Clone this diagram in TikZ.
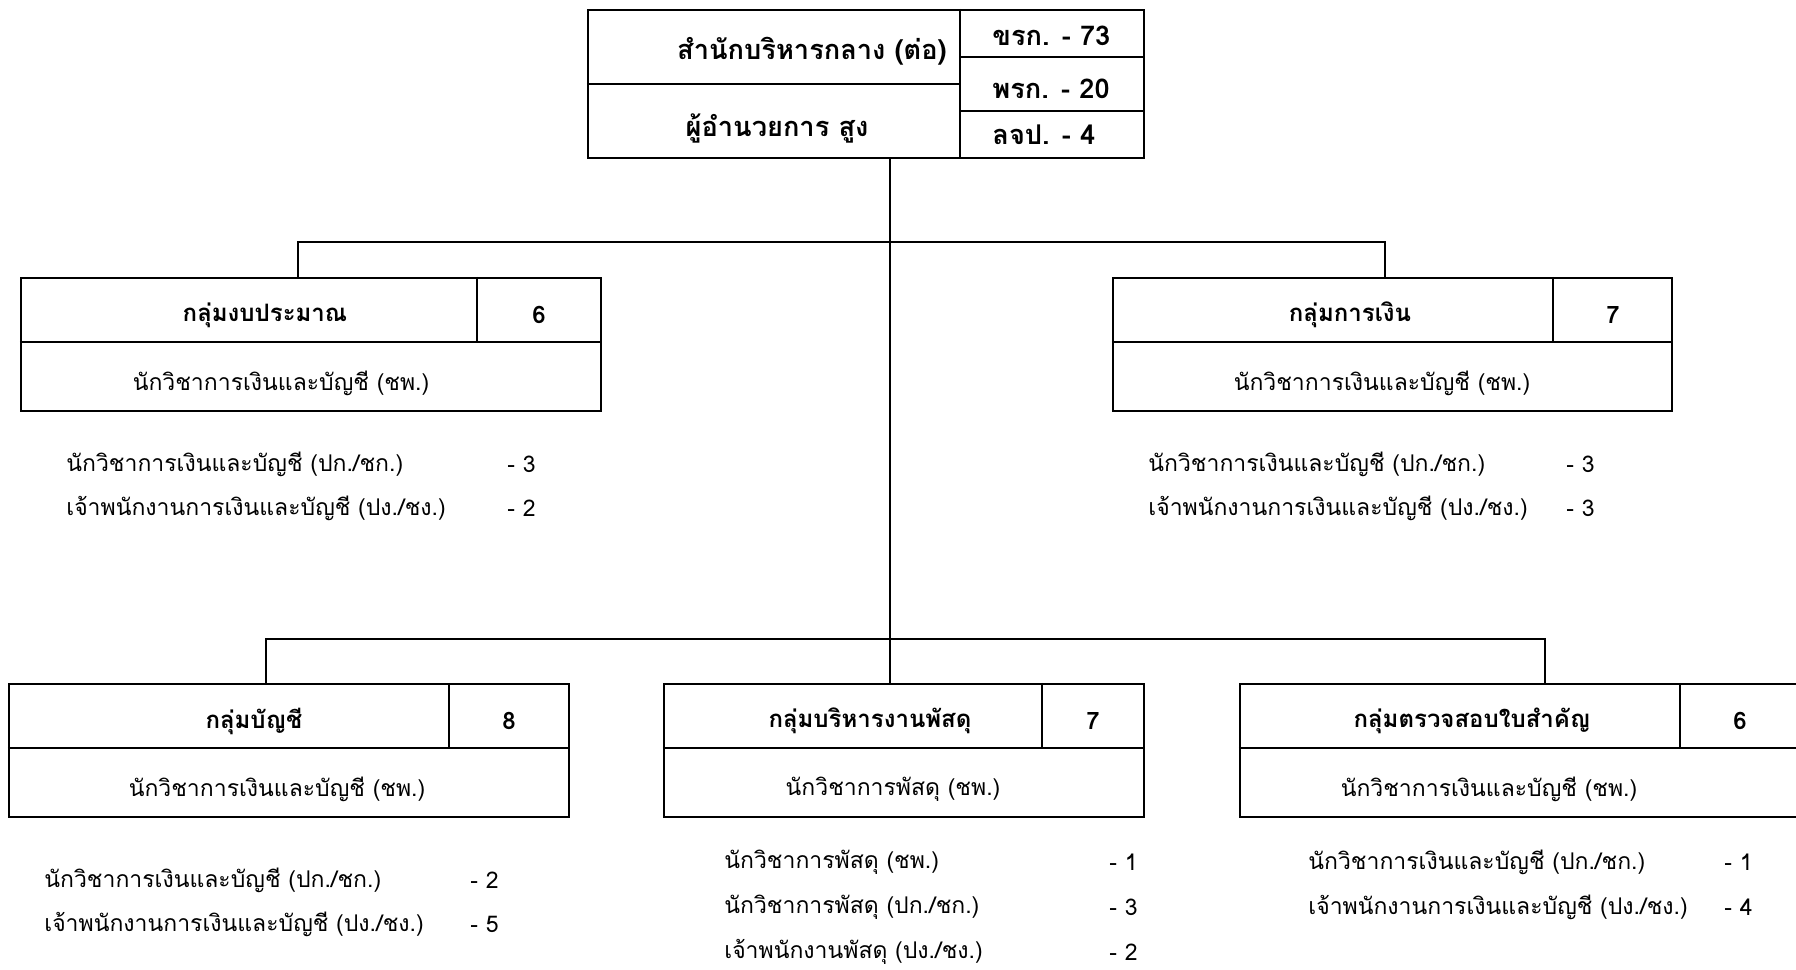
\documentclass[tikz,border=0pt]{standalone}
\usepackage{fontspec}
\setmainfont[Script=Thai]{Loma}
\usetikzlibrary{calc,fit}
\begin{document}
\begin{tikzpicture}[x=0.5pt,y=-0.5pt,
  box/.style={draw, line width=1.1pt, inner sep=0pt},
  cell/.style={line width=1.1pt},
  conn/.style={line width=0.8pt},
  hdr/.style={font=\bfseries\fontsize{12}{14}\selectfont, inner sep=0pt},
  tophdr/.style={font=\bfseries\fontsize{13.6}{15}\selectfont, inner sep=0pt},
  sub/.style={font=\fontsize{11.5}{14}\selectfont, inner sep=0pt},
  lst/.style={font=\fontsize{11.5}{14}\selectfont, inner sep=0pt, anchor=west},
]
\useasboundingbox (0,0) rectangle (1796,970);
\clip (0,0) rectangle (1796,970);
\fill[white] (0,0) rectangle (1796,970);

% top box
\node[box, fit={(588,10) (1144,158)}] (top) {};
\draw[cell] (top.north -| 960,0) -- (top.south -| 960,0);
\draw[cell] (top.west |- 0,84) -- (960,84);
\draw[cell] (960,57) -- (top.east |- 0,57);
\draw[cell] (960,111) -- (top.east |- 0,111);
\node[tophdr] (t1) at (812,51) {สำนักบริหารกลาง (ต่อ)};
\node[tophdr] (t2) at (777,128) {ผู้อำนวยการ สูง};
\node[tophdr, anchor=west] (t3) at (992,36) {ขรก. - 73};
\node[tophdr, anchor=west] (t4) at (992,89) {พรก. - 20};
\node[tophdr, anchor=west] (t5) at (992,135) {ลจป. - 4};

% group boxes
\node[box, fit={(21,278) (601,411)}] (b1) {};
\draw[cell] (b1.west |- 0,342) -- (b1.east |- 0,342);
\draw[cell] (b1.north -| 477,0) -- (477,342);
\node[hdr] (b1h) at (265,315) {กลุ่มงบประมาณ};
\node[hdr] (b1n) at (539,315) {6};
\node[sub] (b1s) at (281,383) {นักวิชาการเงินและบัญชี (ชพ.)};

\node[box, fit={(1113,278) (1672,411)}] (b2) {};
\draw[cell] (b2.west |- 0,342) -- (b2.east |- 0,342);
\draw[cell] (b2.north -| 1553,0) -- (1553,342);
\node[hdr] (b2h) at (1350,315) {กลุ่มการเงิน};
\node[hdr] (b2n) at (1613,315) {7};
\node[sub] (b2s) at (1382,383) {นักวิชาการเงินและบัญชี (ชพ.)};

\node[box, fit={(9,684) (569,817)}] (b3) {};
\draw[cell] (b3.west |- 0,748) -- (b3.east |- 0,748);
\draw[cell] (b3.north -| 449,0) -- (449,748);
\node[hdr] (b3h) at (254,721) {กลุ่มบัญชี};
\node[hdr] (b3n) at (509,721) {8};
\node[sub] (b3s) at (277,789) {นักวิชาการเงินและบัญชี (ชพ.)};

\node[box, fit={(664,684) (1144,817)}] (b4) {};
\draw[cell] (b4.west |- 0,748) -- (b4.east |- 0,748);
\draw[cell] (b4.north -| 1042,0) -- (1042,748);
\node[hdr] (b4h) at (870,721) {กลุ่มบริหารงานพัสดุ};
\node[hdr] (b4n) at (1093,721) {7};
\node[sub] (b4s) at (893,789) {นักวิชาการพัสดุ (ชพ.)};

\node[box, fit={(1240,684) (1810,817)}] (b5) {};
\draw[cell] (b5.west |- 0,748) -- (1810,748);
\draw[cell] (b5.north -| 1680,0) -- (1680,748);
\node[hdr] (b5h) at (1472,721) {กลุ่มตรวจสอบใบสำคัญ};
\node[hdr] (b5n) at (1740,721) {6};
\node[sub] (b5s) at (1489,789) {นักวิชาการเงินและบัญชี (ชพ.)};

% connectors
\coordinate (trT) at (top.south -| 890,0);
\coordinate (j1) at (890,242);
\coordinate (j1l) at (b1.north -| 298,0);
\coordinate (j1r) at (b2.north -| 1385,0);
\coordinate (j2) at (890,639);
\coordinate (j2l) at (b3.north -| 266,0);
\coordinate (j2r) at (b5.north -| 1545,0);
\coordinate (trB) at (b4.north -| 890,0);
\draw[conn] (trT) -- (trB);
\draw[conn] (j1l) |- (j1) -| (j1r);
\draw[conn] (j2l) |- (j2) -| (j2r);

% lists
\node[lst] (l11) at (66,464) {นักวิชาการเงินและบัญชี (ปก./ชก.)};
\node[lst] (n11) at (507,464) {- 3};
\node[lst] (l12) at (66,508) {เจ้าพนักงานการเงินและบัญชี (ปง./ชง.)};
\node[lst] (n12) at (507,508) {- 2};

\node[lst] (l21) at (1148,464) {นักวิชาการเงินและบัญชี (ปก./ชก.)};
\node[lst] (n21) at (1566,464) {- 3};
\node[lst] (l22) at (1148,508) {เจ้าพนักงานการเงินและบัญชี (ปง./ชง.)};
\node[lst] (n22) at (1566,508) {- 3};

\node[lst] (l31) at (44,880) {นักวิชาการเงินและบัญชี (ปก./ชก.)};
\node[lst] (n31) at (470,880) {- 2};
\node[lst] (l32) at (44,924) {เจ้าพนักงานการเงินและบัญชี (ปง./ชง.)};
\node[lst] (n32) at (470,924) {- 5};

\node[lst] (l41) at (724,862) {นักวิชาการพัสดุ (ชพ.)};
\node[lst] (n41) at (1109,862) {- 1};
\node[lst] (l42) at (724,907) {นักวิชาการพัสดุ (ปก./ชก.)};
\node[lst] (n42) at (1109,907) {- 3};
\node[lst] (l43) at (724,952) {เจ้าพนักงานพัสดุ (ปง./ชง.)};
\node[lst] (n43) at (1109,952) {- 2};

\node[lst] (l51) at (1308,862) {นักวิชาการเงินและบัญชี (ปก./ชก.)};
\node[lst] (n51) at (1724,862) {- 1};
\node[lst] (l52) at (1308,907) {เจ้าพนักงานการเงินและบัญชี (ปง./ชง.)};
\node[lst] (n52) at (1724,907) {- 4};
\end{tikzpicture}
\end{document}
